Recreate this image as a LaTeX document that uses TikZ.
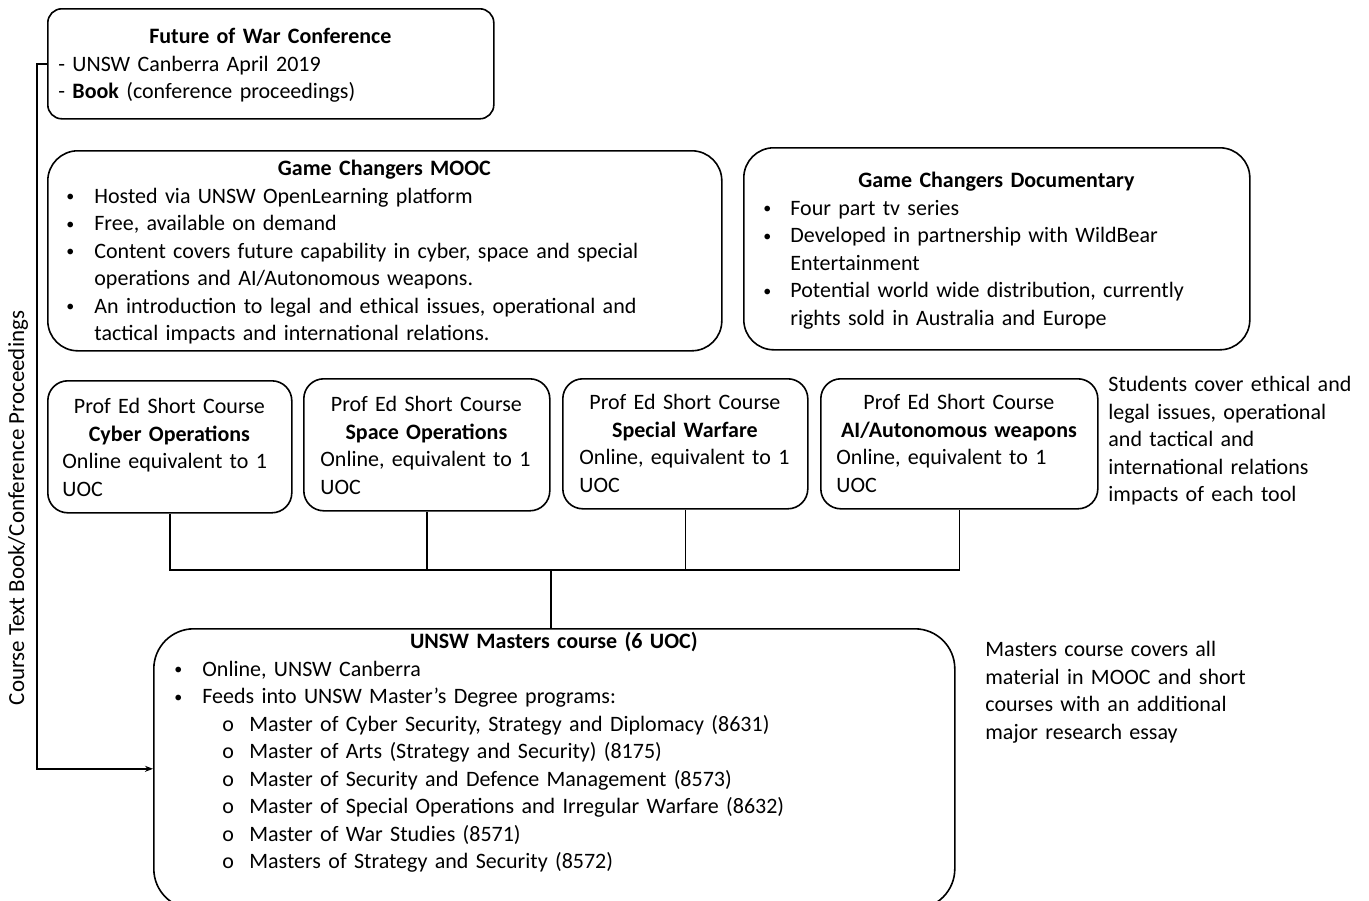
\documentclass[tikz,border=0pt]{standalone}
\usepackage{fontspec}
\setmainfont{Carlito}
\usetikzlibrary{arrows.meta}
\newcommand{\smallbul}{\raisebox{0.6pt}{\fontsize{8}{8}\selectfont\textbullet}}
\newcommand{\bitem}[3]{\par\hangindent=#2\hangafter=1\noindent\hspace*{#1}\makebox[\dimexpr#2-#1\relax][l]{\smallbul}#3\par}
\newcommand{\oitem}[3]{\par\hangindent=#2\hangafter=1\noindent\hspace*{#1}\makebox[\dimexpr#2-#1\relax][l]{o}#3\par}
\newcommand{\boxtitle}[1]{{\centering\strut\bfseries #1\par}}
\begin{document}
\begin{tikzpicture}[x=0.5pt, y=-0.5pt,
  box/.style={draw, line width=0.8pt, inner sep=0pt, anchor=north west},
  txt/.style={font=\fontsize{11}{13.75}\selectfont, inner sep=0pt, anchor=north west},
  conn/.style={line width=0.7pt}]
\useasboundingbox (0,0) rectangle (1369,900);
\clip (0,0) rectangle (1369,900);

\node[box, rounded corners=7pt, minimum width=223pt, minimum height=55pt] (future) at (47,8) {};
\node[box, rounded corners=15pt, minimum width=337pt, minimum height=100pt] (mooc) at (47,150) {};
\node[box, rounded corners=15pt, minimum width=253pt, minimum height=101pt] (doc) at (743,147) {};
\node[box, rounded corners=10pt, minimum width=122pt, minimum height=66pt] (cyber) at (47,380) {};
\node[box, rounded corners=10pt, minimum width=123pt, minimum height=66pt] (space) at (303,378) {};
\node[box, rounded corners=10pt, minimum width=122.5pt, minimum height=65pt] (special) at (562,378) {};
\node[box, rounded corners=10pt, minimum width=138.5pt, minimum height=65pt] (ai) at (820,378) {};
\node[box, rounded corners=20pt, minimum width=400.5pt, minimum height=140pt] (masters) at (153,628) {};

\node[txt, text width=212pt] (futureText) at (58,24) {\boxtitle{Future of War Conference}\noindent - UNSW Canberra April 2019\par\noindent - \textbf{Book} (conference proceedings)};

\node[txt, text width=327pt] (moocText) at (57,156) {\boxtitle{Game Changers MOOC}%
\bitem{4.5pt}{18.5pt}{Hosted via UNSW OpenLearning platform}%
\bitem{4.5pt}{18.5pt}{Free, available on demand}%
\bitem{4.5pt}{18.5pt}{Content covers future capability in cyber, space and special\newline operations and AI/Autonomous weapons.}%
\bitem{4.5pt}{18.5pt}{An introduction to legal and ethical issues, operational and\newline tactical impacts and international relations.}};

\node[txt, text width=243pt] (docText) at (753,168) {\boxtitle{Game Changers Documentary}%
\bitem{5pt}{18.5pt}{Four part tv series}%
\bitem{5pt}{18.5pt}{Developed in partnership with WildBear\newline Entertainment}%
\bitem{5pt}{18.5pt}{Potential world wide distribution, currently\newline rights sold in Australia and Europe}};

\node[txt, text width=107pt] (cyberText) at (62,394) {\boxtitle{\mdseries Prof Ed Short Course}\boxtitle{Cyber Operations}\noindent Online equivalent to 1\par\noindent UOC};
\node[txt, text width=106pt] (spaceText) at (320,392) {\boxtitle{\mdseries Prof Ed Short Course}\boxtitle{Space Operations}\noindent Online, equivalent to 1\par\noindent UOC};
\node[txt, text width=105.5pt] (specialText) at (579,390) {\boxtitle{\mdseries Prof Ed Short Course}\boxtitle{Special Warfare}\noindent Online, equivalent to 1\par\noindent UOC};
\node[txt, text width=122.5pt] (aiText) at (836,390) {\boxtitle{\mdseries Prof Ed Short Course}\boxtitle{AI/Autonomous weapons}\noindent Online, equivalent to 1\par\noindent UOC};

\node[txt, text width=130pt] (studentsText) at (1108,372) {\noindent\strut Students cover ethical and\newline legal issues, operational\newline and tactical and\newline international relations\newline impacts of each tool};

\node[txt, text width=390.5pt] (mastersText) at (163,629) {\boxtitle{UNSW Masters course (6 UOC)}%
\bitem{5.5pt}{19.5pt}{Online, UNSW Canberra}%
\bitem{5.5pt}{19.5pt}{Feeds into UNSW Master’s Degree programs:}%
\oitem{29.5pt}{43pt}{Master of Cyber Security, Strategy and Diplomacy (8631)}%
\oitem{29.5pt}{43pt}{Master of Arts (Strategy and Security) (8175)}%
\oitem{29.5pt}{43pt}{Master of Security and Defence Management (8573)}%
\oitem{29.5pt}{43pt}{Master of Special Operations and Irregular Warfare (8632)}%
\oitem{29.5pt}{43pt}{Master of War Studies (8571)}%
\oitem{29.5pt}{43pt}{Masters of Strategy and Security (8572)}};

\node[txt, text width=140pt] (noteText) at (985,637) {\noindent\strut Masters course covers all\newline material in MOOC and short\newline courses with an additional\newline major research essay};

\node[font=\fontsize{11.5}{14}\selectfont, rotate=90, inner sep=0pt] (bookLabel) at (18,508) {Course Text Book/Conference Proceedings};

\coordinate (bus) at (551,570);
\draw[conn] (cyber.south) -- (cyber.south |- bus) -- (ai.south |- bus) -- (ai.south);
\draw[conn] (space.south) -- (space.south |- bus);
\draw[conn] (special.south) -- (special.south |- bus);
\draw[conn] (bus) -- (bus |- masters.north);
\draw[conn, -{Stealth[length=4pt, width=3pt]}] (future.west) -- ++(-10,0) |- (masters.west);

\end{tikzpicture}
\end{document}
